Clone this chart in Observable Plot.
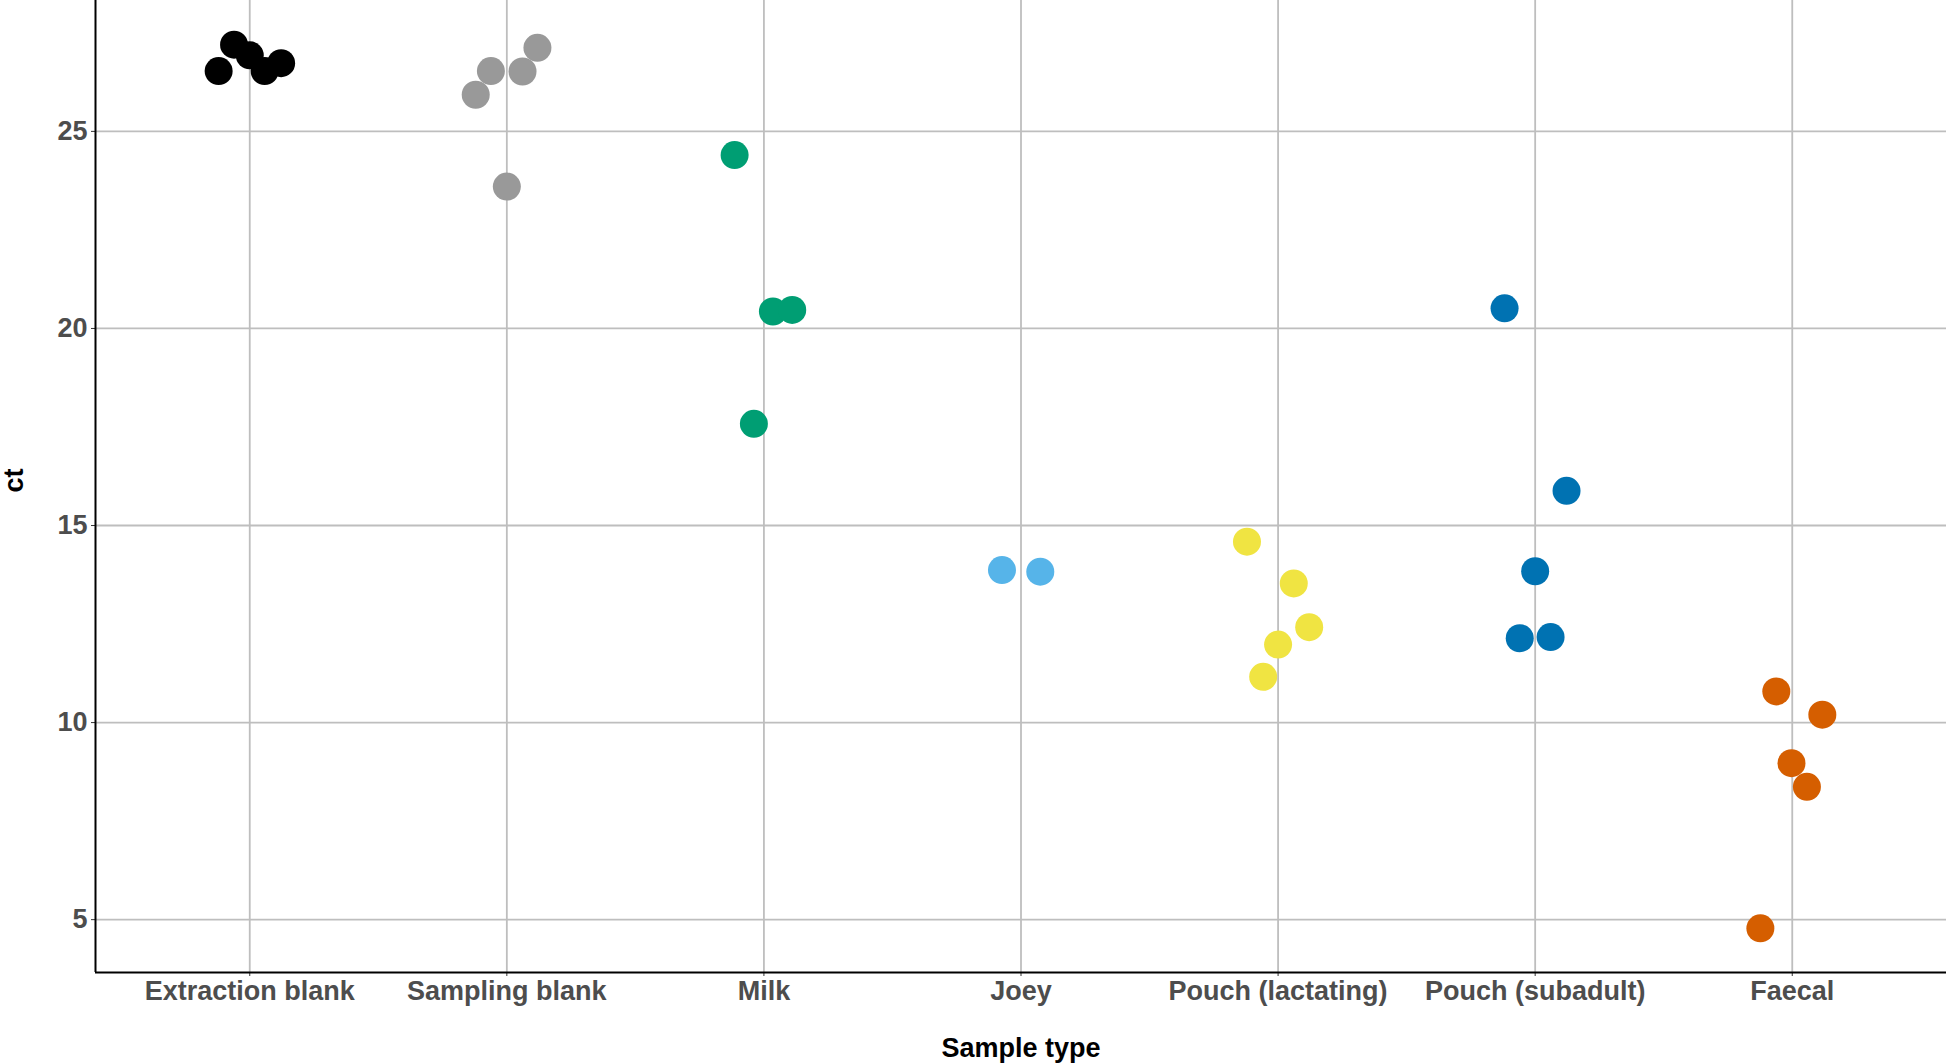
<!DOCTYPE html>
<html><head><meta charset="utf-8">
<script src="https://cdn.jsdelivr.net/npm/d3@7"></script>
<script src="https://cdn.jsdelivr.net/npm/@observablehq/plot@0.6"></script>
<style>html,body{margin:0;padding:0;background:#fff;overflow:hidden}</style>
</head><body><div id="chart"></div>
<script>
const categories = ["Extraction blank","Sampling blank","Milk","Joey","Pouch (lactating)","Pouch (subadult)","Faecal"];
const colors = ["#000000","#999999","#009E73","#56B4E9","#F0E442","#0072B2","#D55E00"];
const ctValues = [
  [26.53, 27.20, 26.93, 26.53, 26.73],
  [25.93, 26.53, 26.52, 27.12, 23.60],
  [24.40, 20.43, 20.47, 17.58],
  [13.87, 13.83],
  [14.59, 13.53, 12.42, 11.98, 11.16],
  [20.51, 15.88, 13.84, 12.14, 12.17],
  [10.79, 10.20, 8.97, 8.37, 4.78]
];
const jitterOffsets = [
  [-0.121, -0.061, 0, 0.058, 0.122],
  [-0.121, -0.062, 0.061, 0.119, 0],
  [-0.114, 0.035, 0.110, -0.039],
  [-0.074, 0.075],
  [-0.121, 0.061, 0.121, 0, -0.058],
  [-0.119, 0.122, 0, -0.060, 0.060],
  [-0.062, 0.117, -0.003, 0.057, -0.124]
];
const yTicks = [5, 10, 15, 20, 25];
const xTitle = "Sample type";
const yTitle = "ct";

const points = [];
ctValues.forEach((vals, i) => vals.forEach((v, j) => points.push({
  type: categories[i], pos: i + 1 + jitterOffsets[i][j], ct: v
})));
const ext = d3.extent(points, d => d.ct);
const pad = (ext[1] - ext[0]) * 0.05;
const yDomain = [ext[0] - pad, ext[1] + pad];
const xDomain = [0.4, categories.length + 0.6];
const xTicks = d3.range(1, categories.length + 1);

const chart = Plot.plot({
  width: 1946, height: 1064,
  marginLeft: 95, marginRight: 0, marginTop: 0, marginBottom: 92,
  style: {fontFamily: "'Liberation Sans', Arial, sans-serif", fontWeight: "bold", color: "#4d4d4d", background: "#fff"},
  x: {type: "linear", domain: xDomain},
  y: {domain: yDomain},
  color: {domain: categories, range: colors},
  marks: [
    Plot.gridX(xTicks, {stroke: "#bebebe", strokeOpacity: 1, strokeWidth: 1.8}),
    Plot.gridY(yTicks, {stroke: "#bebebe", strokeOpacity: 1, strokeWidth: 1.8}),
    Plot.axisX(xTicks, {tickFormat: d => categories[d - 1], fontSize: 27, tickSize: 4, tickPadding: 4, label: null, stroke: "#333"}),
    Plot.axisY(yTicks, {fontSize: 27, tickSize: 4, tickPadding: 4, label: null, stroke: "#333"}),
    Plot.ruleX([xDomain[0]], {stroke: "#000", strokeWidth: 2}),
    Plot.ruleY([yDomain[0]], {stroke: "#000", strokeWidth: 2}),
    Plot.dot(points, {x: "pos", y: "ct", r: 14, fill: "type", stroke: null}),
    Plot.text([xTitle], {text: d => d, frameAnchor: "bottom", dy: 84, fontSize: 27, fontWeight: "bold", fill: "#000"}),
    Plot.text([yTitle], {text: d => d, frameAnchor: "left", dx: -81, dy: 6, rotate: -90, fontSize: 27, fontWeight: "bold", fill: "#000"})
  ]
});
document.getElementById("chart").appendChild(chart);
</script>
</body></html>
